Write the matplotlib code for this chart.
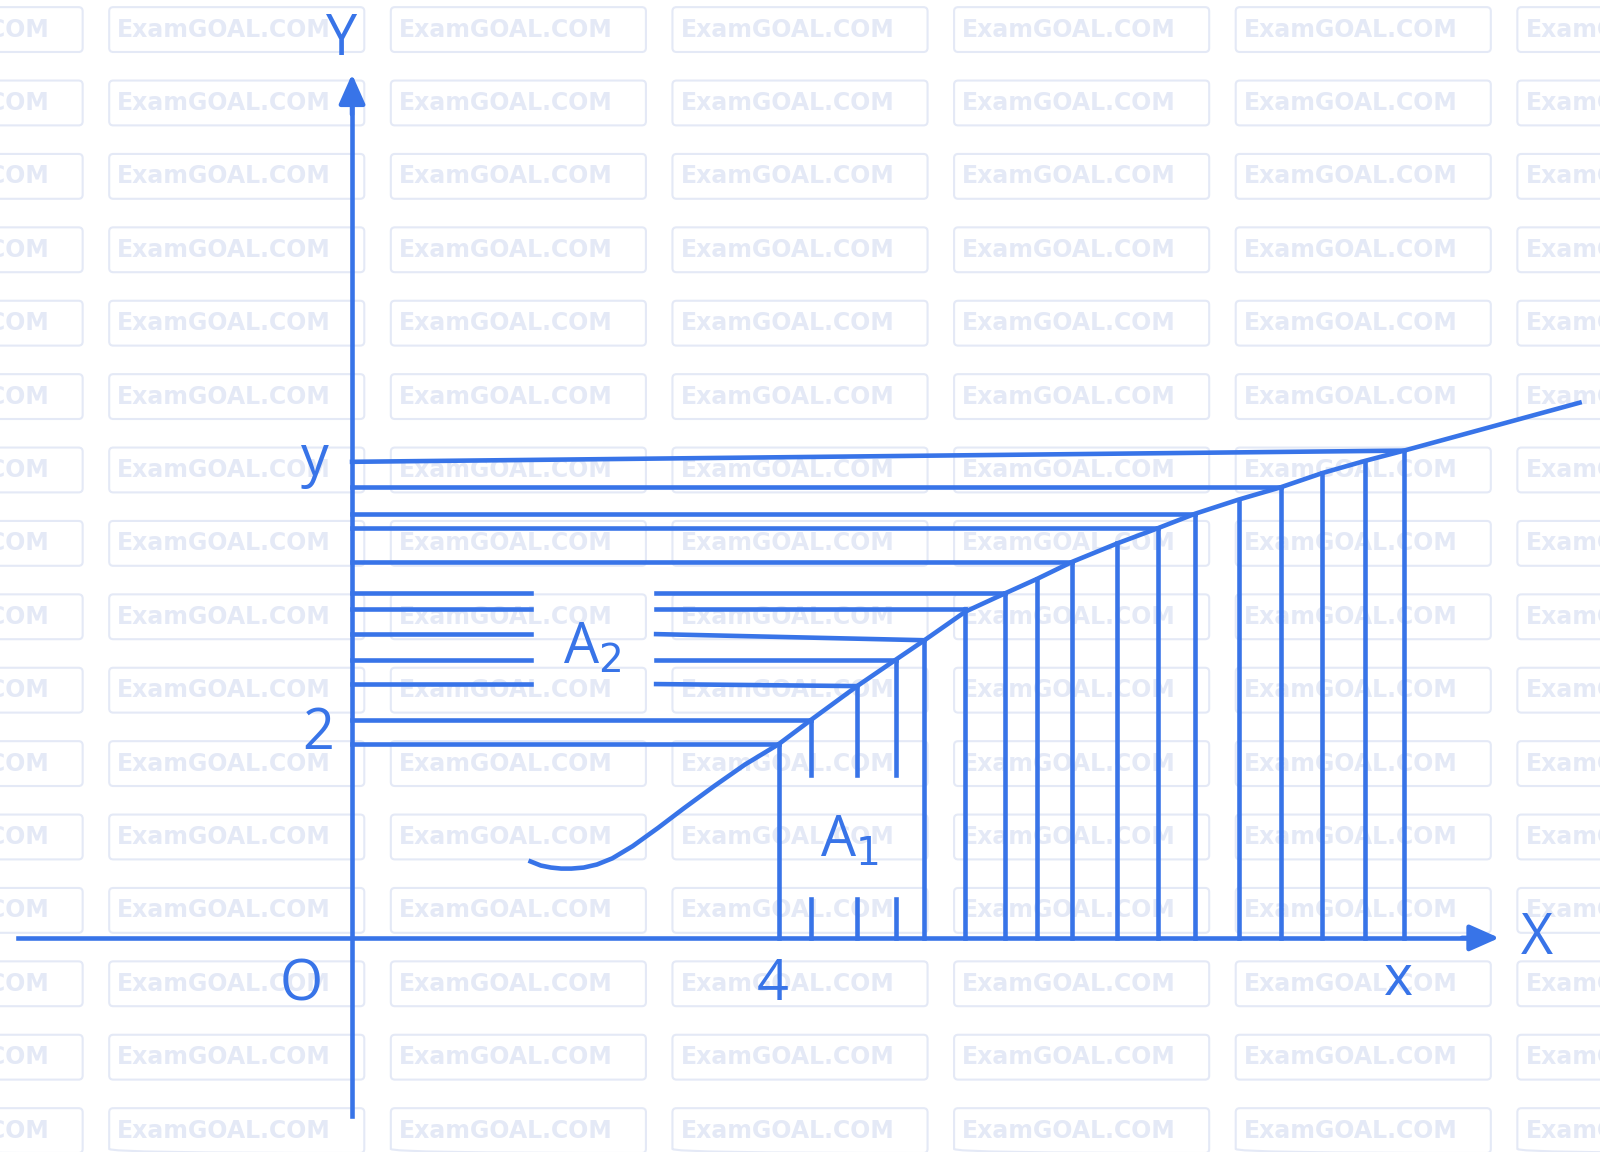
import matplotlib.pyplot as plt
from matplotlib.patches import FancyBboxPatch

BLUE = "#3874e8"

# curve points (pixel-like coordinates, y downward)
curve_x = [520, 530, 540, 550, 560, 572, 585, 600, 620, 645, 670, 700, 730, 763, 795, 840, 878,
           906, 946, 985, 1016, 1051, 1095, 1135, 1171, 1214, 1255, 1296, 1338, 1376, 1548]
curve_y = [845, 849, 851, 852, 852, 851, 848, 842, 830, 812, 793, 771, 750, 730, 706, 673, 647,
           628, 600, 582, 568, 551, 533, 518, 504, 490, 478, 464, 452, 442, 395]

# vertical strips: x, top y, dashed?
vert_x = [763, 795, 840, 878, 906, 946, 985, 1016, 1051, 1095, 1135, 1171, 1214, 1255, 1296, 1338, 1376]
vert_top = [730, 706, 673, 647, 628, 597, 582, 568, 551, 533, 518, 504, 490, 478, 464, 452, 442]
vert_gap = [False, True, True, True, False, False, False, False, False, False, False, False,
            False, False, False, False, False]

# horizontal strips: y at axis, y at curve end, x end, gap?
horiz_y0 = [730, 706, 671, 647, 622, 597, 582, 551, 518, 504, 478, 453]
horiz_y1 = [730, 706, 673, 647, 628, 597, 582, 551, 518, 504, 478, 442]
horiz_x1 = [763, 795, 840, 878, 906, 946, 985, 1051, 1135, 1171, 1255, 1376]
horiz_gap = [False, False, True, True, True, True, True, False, False, False, False, False]

fig = plt.figure(figsize=(16, 11.52), dpi=100)
ax = fig.add_axes([0, 0, 1, 1])
ax.set_xlim(0, 1568)
ax.set_ylim(1130, 0)
ax.axis("off")

# watermark
for row in range(16):
    yc = 29 + 72 * row
    for col in range(-1, 6):
        x0 = 107 + 276 * col
        ax.add_patch(FancyBboxPatch((x0, yc - 22), 250, 44, boxstyle="round,pad=0,rounding_size=4",
                                    fill=False, ec="#e4e9f6", lw=1.5, zorder=0))
        t = ax.text(x0 + 8, yc, "ExamGOAL.COM", color="#e4e9f6", fontsize=17, fontweight="bold",
                    ha="left", va="center", zorder=0)
        t.set_clip_on(True)

lw = 3.3
ax.plot(curve_x, curve_y, color=BLUE, lw=lw)
for x, t, g in zip(vert_x, vert_top, vert_gap):
    if g:
        ax.plot([x, x], [t, 760], color=BLUE, lw=lw)
        ax.plot([x, x], [882, 920], color=BLUE, lw=lw)
    else:
        ax.plot([x, x], [t, 920], color=BLUE, lw=lw)
for y0, y1, x1, g in zip(horiz_y0, horiz_y1, horiz_x1, horiz_gap):
    if g:
        ax.plot([345, 520], [y0, y0], color=BLUE, lw=lw)
        ax.plot([643, x1], [y0, y1], color=BLUE, lw=lw)
    else:
        ax.plot([345, x1], [y0, y1], color=BLUE, lw=lw)

# axes
ax.plot([18, 1440], [920, 920], color=BLUE, lw=lw)
ax.plot([345, 345], [1095, 100], color=BLUE, lw=lw)
ax.annotate("", xy=(1472, 920), xytext=(1430, 920),
            arrowprops=dict(arrowstyle="-|>,head_length=1.8,head_width=0.8", color=BLUE, lw=lw))
ax.annotate("", xy=(345, 70), xytext=(345, 115),
            arrowprops=dict(arrowstyle="-|>,head_length=1.8,head_width=0.8", color=BLUE, lw=lw))

fs = 40
labels = [(335, 40, "Y"), (1506, 922, "X"), (295, 967, "O"), (757, 967, "4"),
          (1370, 962, "x"), (309, 452, "y"), (312, 720, "2"),
          (580, 636, "A$_2$"), (832, 825, "A$_1$")]
for x, y, s in labels:
    ax.text(x, y, s, color=BLUE, fontsize=fs, ha="center", va="center", family="Open Sans")

fig.savefig("out.png", dpi=100)
